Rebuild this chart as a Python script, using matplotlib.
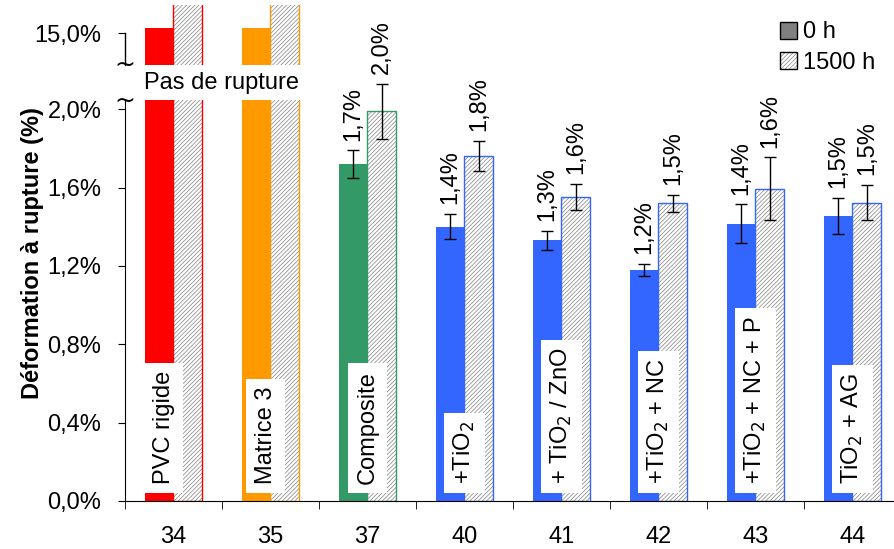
import numpy as np
import matplotlib
matplotlib.use("Agg")
import matplotlib.pyplot as plt
from matplotlib.patches import Patch

plt.rcParams['font.family'] = ['Liberation Sans', 'DejaVu Sans']
plt.rcParams['hatch.linewidth'] = 0.5

# data
codes = ['34', '35', '37', '40', '41', '42', '43', '44']
names = ['PVC rigide', 'Matrice 3', 'Composite', '+TiO$_2$', '+ TiO$_2$ / ZnO',
         '+TiO$_2$ + NC', '+TiO$_2$ + NC + P', 'TiO$_2$ + AG']
colors = ['#FF0000', '#FF9900', '#339966', '#3366FF', '#3366FF', '#3366FF', '#3366FF', '#3366FF']
# PVC rigide and Matrice 3 did not break: values sit above the axis break
val_0h = [17.1, 17.1, 1.72, 1.40, 1.33, 1.18, 1.415, 1.455]
val_1500h = [30.0, 30.0, 1.99, 1.76, 1.553, 1.52, 1.594, 1.523]
err_0h = [0, 0, 0.07, 0.064, 0.05, 0.03, 0.10, 0.092]
err_1500h = [0, 0, 0.14, 0.077, 0.066, 0.043, 0.16, 0.09]
broken = [True, True, False, False, False, False, False, False]
yticks = [0.0, 0.4, 0.8, 1.2, 1.6, 2.0, 15.0]

# broken axis: linear up to 2.24 %, compressed above
B = 2.24
S = 0.011677


def fwd(v):
    v = np.asarray(v, dtype=float)
    return np.where(v <= B, v, B + (v - B) * S)


def inv(y):
    y = np.asarray(y, dtype=float)
    return np.where(y <= B, y, B + (y - B) / S)


fig = plt.figure(figsize=(8.95, 5.49), dpi=100)
ax = fig.add_axes([125 / 895, 48 / 549, 776 / 895, 496 / 549])
ax.set_yscale('function', functions=(fwd, inv))
ax.set_ylim(0, 27.25)
ax.set_xlim(-0.5, 7.5)

x = np.arange(len(codes))
w = 0.294
ax.bar(x - w / 2, val_0h, w, color=colors, linewidth=0, zorder=2)
ax.bar(x + w / 2, val_1500h, w, color='white', edgecolor='#808080', hatch='////////', linewidth=0, zorder=2)
ax.bar(x + w / 2, val_1500h, w, fill=False, edgecolor=colors, linewidth=1.0, zorder=2.1)

for i in range(len(codes)):
    if broken[i]:
        continue
    ax.errorbar(x[i] - w / 2, val_0h[i], yerr=err_0h[i], fmt='none', ecolor='black',
                elinewidth=1, capsize=4, capthick=1, zorder=4)
    ax.errorbar(x[i] + w / 2, val_1500h[i], yerr=err_1500h[i], fmt='none', ecolor='black',
                elinewidth=1, capsize=4, capthick=1, zorder=4)
    for xx, v, e in [(x[i] - w / 2, val_0h[i], err_0h[i]), (x[i] + w / 2, val_1500h[i], err_1500h[i])]:
        ax.annotate(f"{v:.1f}%".replace('.', ','), (xx, v + e), xytext=(0, 7),
                    textcoords='offset points', rotation=90, ha='center', va='bottom',
                    fontsize=17, zorder=5)

# names inside the bars
name_dx = [-0.1, -0.05, 0, 0, 0, 0, 0, 0]
for i in range(len(codes)):
    ax.text(x[i] + name_dx[i], 0.085, names[i], rotation=90, ha='center', va='bottom',
            fontsize=17, zorder=6,
            bbox=dict(boxstyle='square,pad=0.35', facecolor='white', edgecolor='none'))

# break band
lo, hi = 2.046, 2.225
ax.axhspan(lo, hi, color='white', zorder=3, linewidth=0)
ax.text(0.5, (lo + hi) / 2, 'Pas de rupture', ha='center', va='center', fontsize=17, zorder=5)

# spines
for s in ['top', 'right']:
    ax.spines[s].set_visible(False)
ax.spines['left'].set_bounds(0, lo)
trans = ax.get_yaxis_transform()
ax.plot([0, 0], [hi, 15.0], color='black', linewidth=1, transform=trans, clip_on=False, zorder=3)
for yy in (lo, hi):
    ax.text(0, yy, '~', transform=trans, ha='center', va='center', fontsize=18,
            family='DejaVu Sans', zorder=7, clip_on=False)

ax.set_yticks(yticks)
ax.set_yticklabels([f"{t:.1f}%".replace('.', ',') for t in yticks])
ax.tick_params(axis='y', direction='out', length=5, pad=12, labelsize=17)

ax.set_xticks(x)
ax.set_xticklabels(codes)
ax.set_xticks(np.arange(-0.5, 8.0, 1.0), minor=True)
ax.tick_params(axis='x', which='major', length=0, pad=18, labelsize=17)
ax.tick_params(axis='x', which='minor', direction='out', length=6)

ax.set_ylabel('Déformation à rupture (%)', fontsize=17, fontweight='bold')
ax.yaxis.set_label_coords(-0.105, 0.5)

h0 = Patch(facecolor='#808080', edgecolor='black', linewidth=1)
h1a = Patch(facecolor='white', edgecolor='#888888', hatch='////////', linewidth=0)
h1b = Patch(fill=False, edgecolor='black', linewidth=1)
fig.legend([h0, (h1a, h1b)], ['0 h', '1500 h'], loc='upper right',
           bbox_to_anchor=(885 / 895, 1 - 12 / 549), frameon=False, fontsize=17,
           handlelength=0.75, handleheight=0.75, handletextpad=0.25, labelspacing=0.35,
           borderaxespad=0)

fig.savefig('out.png', dpi=100)
